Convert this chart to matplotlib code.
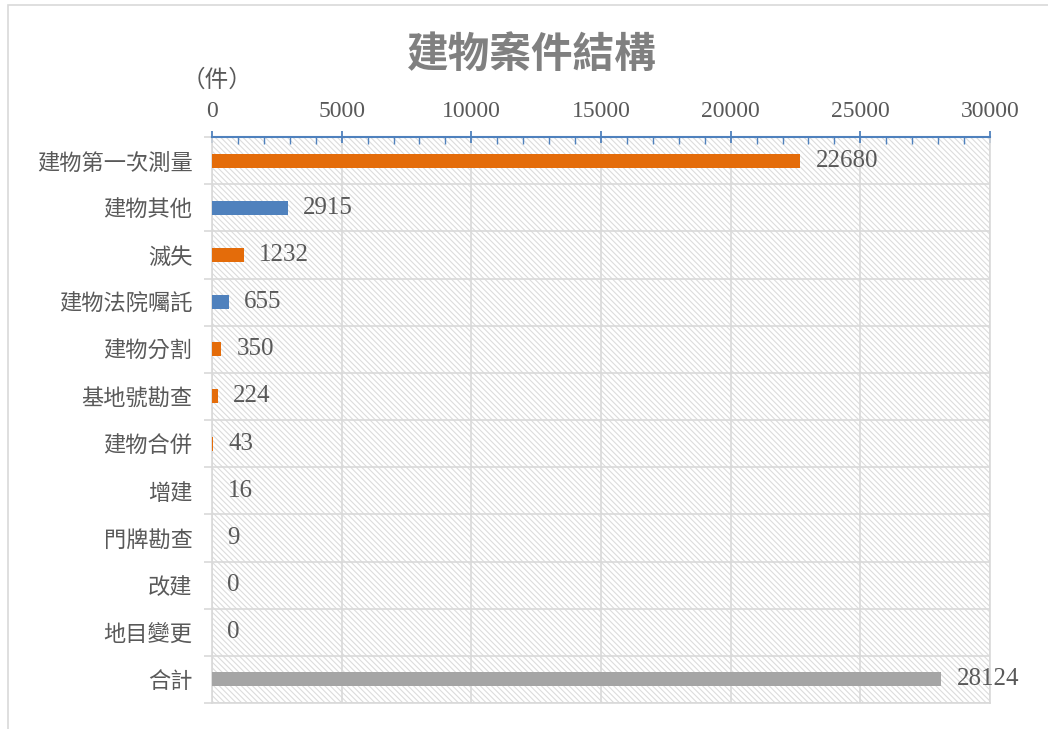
import numpy as np
import matplotlib.pyplot as plt
from matplotlib.patches import Rectangle
from matplotlib.ticker import MultipleLocator

plt.rcParams['font.family'] = ['Liberation Serif', 'Noto Sans CJK TC', 'DejaVu Sans']
plt.rcParams['hatch.linewidth'] = 0.8

# 資料
categories = ['建物第一次測量', '建物其他', '滅失', '建物法院囑託', '建物分割', '基地號勘查',
              '建物合併', '增建', '門牌勘查', '改建', '地目變更', '合計']
values = [22680, 2915, 1232, 655, 350, 224, 43, 16, 9, 0, 0, 28124]
bar_colors = ['#E46C0A', '#4F81BD', '#E46C0A', '#4F81BD', '#E46C0A', '#E46C0A',
              '#E46C0A', '#E46C0A', '#E46C0A', '#E46C0A', '#E46C0A', '#A5A5A5']

text_col = '#595959'
grid_col = '#D9D9D9'

fig = plt.figure(figsize=(10.48, 7.29), dpi=100)
# 外框
fig.patches.append(Rectangle((8 / 1048, -0.01), 1.2, 1.0 - 5 / 729 + 0.01,
                             transform=fig.transFigure, fill=False,
                             edgecolor=grid_col, lw=1.2))

ax = fig.add_axes([212 / 1048, 1 - 703 / 729, 778 / 1048, 566 / 729])

y = np.arange(len(categories))
ax.barh(y, values, height=0.3, color=bar_colors, zorder=3)

# 斜線底紋
ax.add_patch(Rectangle((0, 0), 1, 1, transform=ax.transAxes, fill=False,
                       hatch='\\\\\\\\\\\\', edgecolor='#DCDCDC', lw=0, zorder=0))

ax.set_xlim(0, 30000)
ax.set_ylim(len(categories) - 0.5, -0.5)

# 上方 x 軸
ax.xaxis.tick_top()
ax.xaxis.set_major_locator(MultipleLocator(5000))
ax.xaxis.set_minor_locator(MultipleLocator(1000))
ax.tick_params(axis='x', which='major', direction='inout', length=9, width=1.3,
               color='#4F81BD', labelsize=17, labelcolor=text_col, pad=6)
ax.tick_params(axis='x', which='minor', direction='in', length=5, width=1.0,
               color='#4F81BD')

ax.set_yticks(y)
ax.set_yticklabels(categories, fontsize=16, color=text_col,
                   family=['Noto Sans CJK TC'])
ax.set_yticks(np.arange(len(categories) + 1) - 0.5, minor=True)
ax.tick_params(axis='y', which='major', length=0, pad=14)
ax.tick_params(axis='y', which='minor', length=6, color=grid_col, width=1.2)

ax.grid(axis='x', which='major', color=grid_col, lw=1.2, zorder=1)
ax.grid(axis='y', which='minor', color=grid_col, lw=1.2, zorder=1)
ax.set_axisbelow(True)

for s in ['left', 'right', 'bottom']:
    ax.spines[s].set_color(grid_col)
    ax.spines[s].set_linewidth(1.2)
ax.spines['top'].set_color('#4F81BD')
ax.spines['top'].set_linewidth(1.5)

# 數值標籤
for yi, v in zip(y, values):
    ax.annotate(str(v), (v, yi), xytext=(11, 0), textcoords='offset points',
                va='center', ha='left', fontsize=18, color=text_col)

fig.text(532 / 1048, 1 - 55 / 729, '建物案件結構', ha='center', va='center',
         fontsize=30, color='#808080', fontweight='bold',
         family=['Noto Sans CJK TC'])
fig.text(217 / 1048, 1 - 80 / 729, '（件）', ha='center', va='center',
         fontsize=17, color=text_col, family=['Noto Sans CJK TC'])

fig.savefig('out.png', dpi=100)
